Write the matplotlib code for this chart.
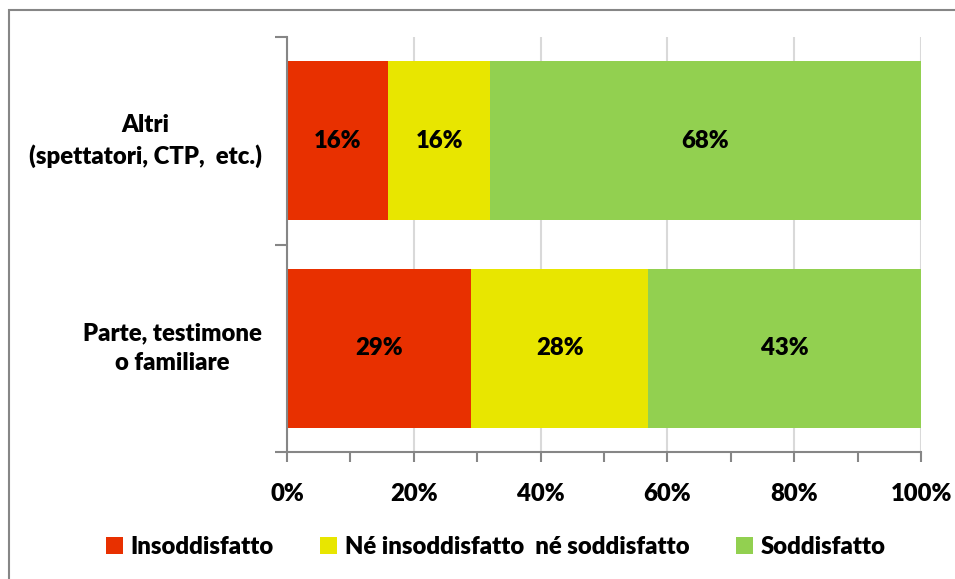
import matplotlib
matplotlib.use("Agg")
import matplotlib.pyplot as plt
from matplotlib.patches import Rectangle, Patch
from matplotlib.ticker import MultipleLocator, FuncFormatter

WEIGHT = "heavy"
plt.rcParams['font.family'] = ['Lato', 'DejaVu Sans']
plt.rcParams['font.weight'] = WEIGHT

categories = ["Parte, testimone\no familiare", "Altri\n(spettatori, CTP,  etc.)"]
series_names = ["Insoddisfatto", "Né insoddisfatto  né soddisfatto", "Soddisfatto"]
insoddisfatto = [29, 16]
neutro = [28, 16]
soddisfatto = [43, 68]
colors = ["#E83000", "#E8E600", "#92D050"]

FS = 17.2
W, H = 955, 579
fig = plt.figure(figsize=(W / 100, H / 100), dpi=100)

# outer chart frame
fig.patches.append(Rectangle((9 / W, -0.1), 1.2, 1 - 10 / H + 0.1, transform=fig.transFigure,
                             fill=False, edgecolor="#868686", linewidth=1.5))

ax = fig.add_axes([287 / W, 1 - 452 / H, (921 - 287) / W, (452 - 37) / H])

ypos = [0.5, 1.5]
values = [insoddisfatto, neutro, soddisfatto]
left = [0, 0]
for name, vals, col in zip(series_names, values, colors):
    ax.barh(ypos, vals, left=left, height=0.765, color=col, label=name, zorder=2)
    for y, l, v in zip(ypos, left, vals):
        ax.text(l + v / 2, y, f"{v}%", ha="center", va="center", fontsize=FS,
                fontweight=WEIGHT, color="black", zorder=3)
    left = [a + b for a, b in zip(left, vals)]

ax.set_xlim(0, 100)
ax.set_ylim(0, 2)
ax.xaxis.set_major_locator(MultipleLocator(20))
ax.xaxis.set_minor_locator(MultipleLocator(10))
ax.xaxis.set_major_formatter(FuncFormatter(lambda v, p: f"{int(v)}%"))
ax.grid(axis="x", which="major", color="#D9D9D9", linewidth=1.5, zorder=0)
ax.set_axisbelow(True)

ax.set_yticks([0, 1, 2])
ax.set_yticklabels([])
for i, cat in enumerate(categories):
    ax.text(-25 / 634 * 100, ypos[i], cat, ha="right", va="center", multialignment="center",
            fontsize=FS, fontweight=WEIGHT, linespacing=1.4)

for s in ["top", "right"]:
    ax.spines[s].set_visible(False)
for s in ["left", "bottom"]:
    ax.spines[s].set_color("#868686")
    ax.spines[s].set_linewidth(1.5)
ax.tick_params(axis="x", which="both", direction="out", length=7, width=1.5, color="#868686",
               labelsize=FS, pad=15)
ax.tick_params(axis="y", which="major", direction="out", length=9, width=1.5, color="#868686")
for lbl in ax.get_xticklabels():
    lbl.set_fontweight(WEIGHT)

handles = [Patch(facecolor=c, label=n) for c, n in zip(colors, series_names)]
fig.legend(handles=handles, loc="center", bbox_to_anchor=(0.519, 1 - 547 / H), ncol=3,
           frameon=False, handlelength=0.72, handleheight=0.72,
           handletextpad=0.3, columnspacing=1.95, prop={"weight": WEIGHT, "size": FS})

fig.savefig("out.png", dpi=100)
